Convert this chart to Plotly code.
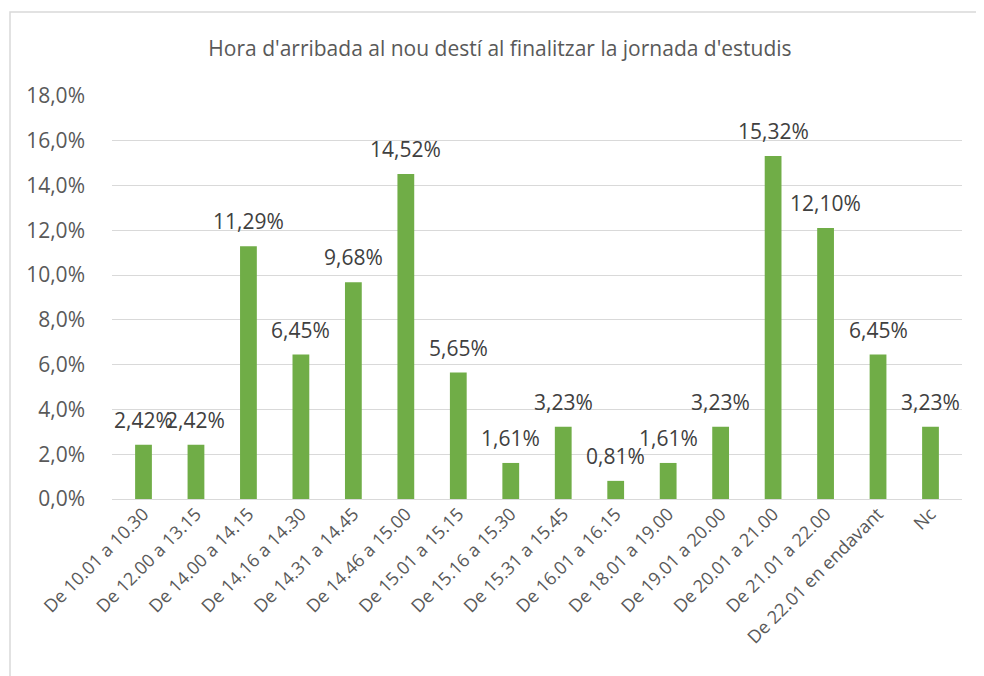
import plotly.graph_objects as go

categories = [
    "De 10.01 a 10.30", "De 12.00 a 13.15", "De 14.00 a 14.15", "De 14.16 a 14.30",
    "De 14.31 a 14.45", "De 14.46 a 15.00", "De 15.01 a 15.15", "De 15.16 a 15.30",
    "De 15.31 a 15.45", "De 16.01 a 16.15", "De 18.01 a 19.00", "De 19.01 a 20.00",
    "De 20.01 a 21.00", "De 21.01 a 22.00", "De 22.01 en endavant", "Nc",
]
percent = [2.42, 2.42, 11.29, 6.45, 9.68, 14.52, 5.65, 1.61,
           3.23, 0.81, 1.61, 3.23, 15.32, 12.10, 6.45, 3.23]
values = [p / 100 for p in percent]

title = "Hora d'arribada al nou destí al finalitzar la jornada d'estudis"
font = "Open Sans, sans-serif"
green = "#70AD47"
grey = "#595959"

fig = go.Figure()
fig.add_trace(
    go.Bar(x=categories, y=values, marker_color=green, marker_line_width=0)
)

for c, v in zip(categories, values):
    fig.add_annotation(
        x=c, y=v, text=f"{v * 100:.2f}%".replace(".", ","),
        showarrow=False, yanchor="bottom", yshift=9,
        font=dict(family=font, size=21, color="#404040"),
    )

# chart area border
fig.add_shape(
    type="rect", xref="paper", yref="paper",
    x0=-0.12, x1=1.1, y0=-0.6, y1=1.2084,
    line=dict(color="#D9D9D9", width=1.5), fillcolor="rgba(0,0,0,0)",
)

# the page adds 8px body margin, so margins are shifted by that amount
fig.update_layout(
    width=984, height=676,
    margin=dict(l=104, r=30, t=88, b=185),
    paper_bgcolor="white", plot_bgcolor="white",
    separators=",.",
    bargap=0.68,
    showlegend=False,
    title=dict(text=title, x=0.5, xref="container", y=0.94, yref="container",
               xanchor="center", yanchor="middle",
               font=dict(family=font, size=21, color=grey)),
    font=dict(family=font, color=grey),
)
fig.update_yaxes(
    range=[0, 0.18], dtick=0.02, tickformat=".1%",
    showgrid=True, gridcolor="#D9D9D9", gridwidth=1,
    zeroline=True, zerolinecolor="#D9D9D9", zerolinewidth=1,
    ticklabelstandoff=26,
    tickfont=dict(family=font, size=21, color=grey),
)
fig.update_xaxes(
    tickangle=-45, showline=False, ticks="",
    tickfont=dict(family=font, size=18, color=grey),
)

fig.write_html("out.html")
